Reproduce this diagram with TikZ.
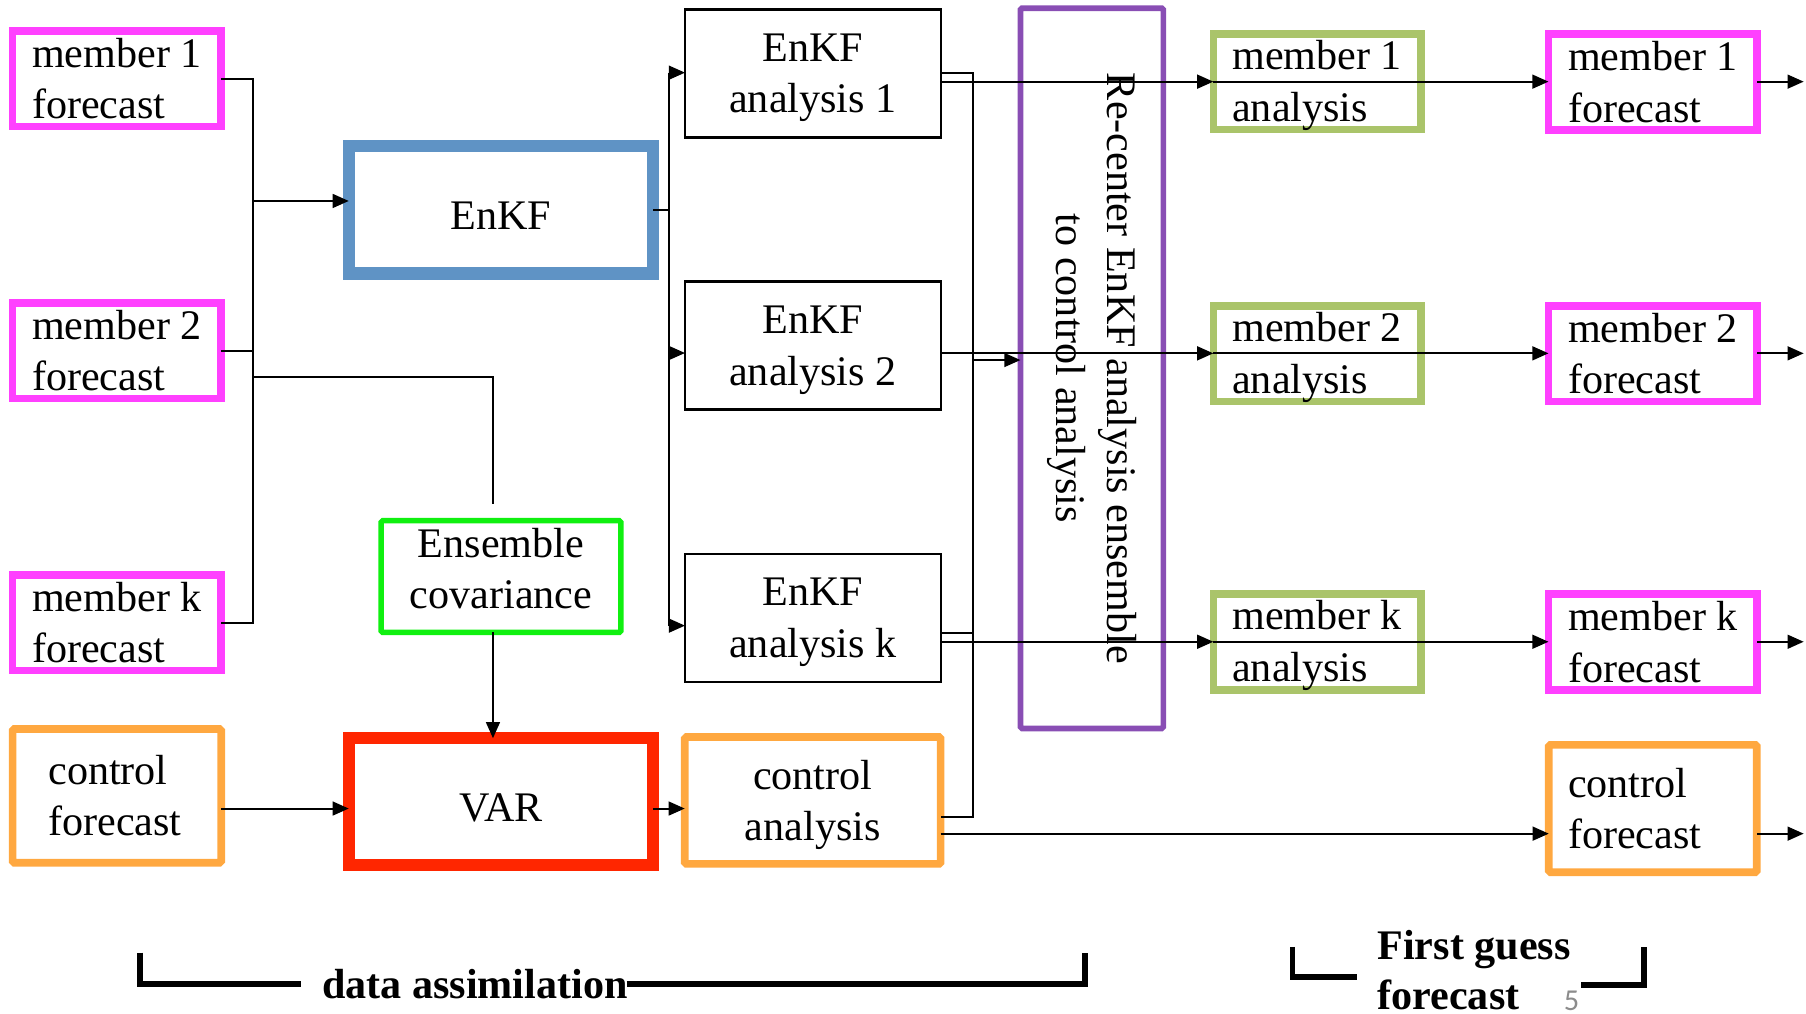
\documentclass[tikz,border=0pt]{standalone}
\usepackage{fontspec}
\setmainfont{Liberation Serif}
\newfontfamily\slidenumfont{Carlito}
\usetikzlibrary{arrows.meta}

\definecolor{fcmagenta}{RGB}{255,64,255}
\definecolor{anolive}{RGB}{170,196,106}
\definecolor{ctlorange}{RGB}{255,168,64}
\definecolor{enkfblue}{RGB}{95,147,197}
\definecolor{varred}{RGB}{255,38,0}
\definecolor{covgreen}{RGB}{16,240,16}
\definecolor{recpurple}{RGB}{137,78,180}
\definecolor{slidegray}{RGB}{140,140,140}

\tikzset{
	box/.style={draw, rectangle, inner sep=0pt, outer sep=0pt, text=black},
	fcbox/.style={box, draw=fcmagenta, line width=1.9pt, minimum width=1.81cm, minimum height=0.83cm, align=left},
	anbox/.style={box, draw=anolive, line width=1.9pt, minimum width=1.80cm, minimum height=0.83cm, align=left, text depth=0.5pt},
	ctlbox/.style={box, draw=ctlorange, line width=1.9pt, rounded corners=0.4pt, align=left},
	kfbox/.style={box, line width=0.6pt, minimum width=2.22cm, minimum height=1.11cm, align=center, text depth=0pt},
	bigbox/.style={box, line width=3pt, minimum width=2.64cm, text height=9.7pt, text depth=0pt},
	link/.style={line width=0.5pt},
	brk/.style={line width=1.4pt}
}

\begin{document}
\begin{tikzpicture}[x=0.01cm, y=-0.01cm, >={Triangle[length=0.14cm,width=0.12cm]},
		every node/.style={font=\fontsize{10.4pt}{12.7pt}\selectfont}]
			\useasboundingbox (0,0) rectangle (1568,880);

			\node[fcbox] (fc1) at (101.5,68.3) {member 1\\forecast};
			\node[fcbox] (fc2) at (101.5,304.5) {member 2\\forecast};
			\node[fcbox] (fck) at (101.5,540.6) {member k\\forecast};
			\node[ctlbox, minimum width=1.81cm, minimum height=1.16cm, text width=1.19cm] (fcc) at (101.5,691) {control\\forecast};

			\node[bigbox, draw=enkfblue, minimum height=1.11cm] (enkf) at (434.9,182) {EnKF};
			\node[box, draw=covgreen, line width=1.35pt, rounded corners=0.4pt, minimum width=2.08cm, minimum height=0.97cm, align=center, text depth=4pt] (enscov) at (435,500.6) {Ensemble\\covariance};
			\node[bigbox, draw=varred, minimum height=1.10cm] (var) at (434.9,696) {VAR};

			\node[kfbox] (an1) at (705.8,63.7) {EnKF\\analysis 1};
			\node[kfbox] (an2) at (705.8,300) {EnKF\\analysis 2};
			\node[kfbox] (ank) at (705.8,536.5) {EnKF\\analysis k};
			\node[ctlbox, minimum width=2.22cm, minimum height=1.10cm, align=center, text depth=0pt] (anc) at (705.6,695) {control\\analysis};

			\node[box, draw=recpurple, line width=1.4pt, rounded corners=0.4pt, minimum width=1.24cm, minimum height=6.25cm] (recenter) at (948,319.8) {};
			\node[rotate=-90, align=center] (rectext) at (recenter.center) {Re-center EnKF analysis ensemble\\to control analysis};

			\node[anbox] (ma1) at (1143.5,71) {member 1\\analysis};
			\node[anbox] (ma2) at (1143.5,307.2) {member 2\\analysis};
			\node[anbox] (mak) at (1143.5,557.4) {member k\\analysis};

			\node[fcbox] (nf1) at (1435,71.3) {member 1\\forecast};
			\node[fcbox] (nf2) at (1435,307.2) {member 2\\forecast};
			\node[fcbox] (nfk) at (1435,557.4) {member k\\forecast};
			\node[ctlbox, minimum width=1.805cm, minimum height=1.105cm, text width=1.47cm] (nfc) at (1435,702) {control\\forecast};

			\coordinate (busL) at (219.5,0);
			\coordinate (busM) at (580.5,0);
			\coordinate (busR) at (844.5,0);
			\coordinate (outR) at (1566,0);
			\coordinate (enkfin) at (219.5,174.5);
			\coordinate (covfeed) at (428,327);
			\coordinate (covend) at (428,438);
			\coordinate (varrow) at (0,702);
			\coordinate (in2) at (0,306.5);
			\coordinate (ink) at (0,543.2);
			\coordinate (up1) at (0,63.1);
			\coordinate (upk) at (0,549.3);
			\coordinate (upc) at (0,709.6);
			\coordinate (recin) at (0,312.6);
			\coordinate (row1) at (0,70.9);
			\coordinate (row2) at (0,306.8);
			\coordinate (rowk) at (0,557.2);
			\coordinate (rowc) at (0,723.8);

			\draw[link] (fc1.east) -- (fc1.east -| busL) -- (fck.east -| busL) -- (fck.east);
			\draw[link] (fc2.east) -- (fc2.east -| busL);
			\draw[link, ->] (enkfin) -- (enkfin -| enkf.west);
			\draw[link] (covfeed -| busL) -- (covfeed) -- (covend);
			\draw[link, ->] (covend |- enscov.south) -- (covend |- var.north);
			\draw[link, ->] (fcc.east |- varrow) -- (var.west |- varrow);
			\draw[link, ->] (var.east |- varrow) -- (anc.west |- varrow);

			\draw[link] (enkf.east) -- (enkf.east -| busM);
			\draw[link] (busM |- up1) -- (busM |- ink);
			\draw[link, ->] (busM |- up1) -- (an1.west |- up1);
			\draw[link, ->] (busM |- in2) -- (an2.west |- in2);
			\draw[link, ->] (busM |- ink) -- (ank.west |- ink);

			\draw[link] (an1.east |- up1) -- (busR |- up1) -- (busR |- upc) -- (anc.east |- upc);
			\draw[link] (ank.east |- upk) -- (busR |- upk);
			\draw[link, ->] (busR |- recin) -- (recenter.west |- recin);

			\draw[link, ->] (an1.east |- row1) -- (ma1.west |- row1);
			\draw[link, ->] (an2.east |- row2) -- (ma2.west |- row2);
			\draw[link, ->] (ank.east |- rowk) -- (mak.west |- rowk);
			\draw[link, ->] (anc.east |- rowc) -- (nfc.west |- rowc);
			\draw[link, ->] (ma1.west |- row1) -- (nf1.west |- row1);
			\draw[link, ->] (ma2.west |- row2) -- (nf2.west |- row2);
			\draw[link, ->] (mak.west |- rowk) -- (nfk.west |- rowk);
			\draw[link, ->] (nf1.east |- row1) -- (outR |- row1);
			\draw[link, ->] (nf2.east |- row2) -- (outR |- row2);
			\draw[link, ->] (nfk.east |- rowk) -- (outR |- rowk);
			\draw[link, ->] (nfc.east |- rowc) -- (outR |- rowc);

			\node[anchor=base west, inner sep=0pt, font=\fontsize{10.4pt}{12.7pt}\selectfont\bfseries] (dalabel) at (279,866.8) {data assimilation};
			\draw[brk] (121.5,827) -- (121.5,854.6) -- (261,854.6);
			\draw[brk] (544,854.6) -- (942,854.6) -- (942,827);

			\node[anchor=base west, inner sep=0pt, align=left, font=\fontsize{10.4pt}{12.4pt}\selectfont\bfseries] (fglabel) at (1195.3,876.5) {First guess\\forecast};
			\draw[brk] (1122.3,822) -- (1122.3,848.5) -- (1178,848.5);
			\draw[brk] (1373,855) -- (1427.5,855) -- (1427.5,822);
			\node[anchor=base west, inner sep=0pt, text=slidegray, font=\slidenumfont\fontsize{7.5pt}{9pt}\selectfont] (slidenum) at (1357,877) {5};
		\end{tikzpicture}
\end{document}
